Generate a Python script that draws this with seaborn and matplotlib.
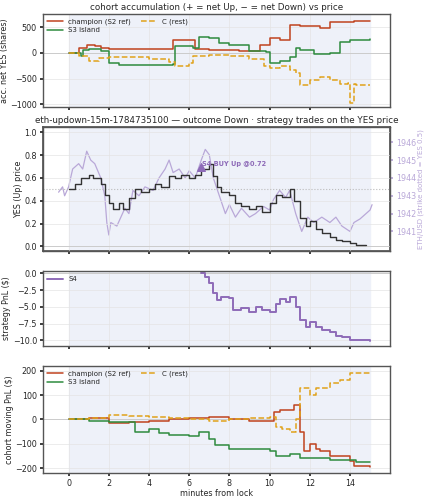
import numpy as np
import pandas as pd
import matplotlib
matplotlib.use("Agg")
import matplotlib.pyplot as plt
import seaborn as sns

# --- cohort accumulation (net YES shares) ---
acc_champ_t = [0, 0.5, 0.9, 1.3, 1.6, 2.0, 3, 4, 5, 5.2, 6.2, 6.3, 7, 8, 8.5, 9, 9.5, 10, 10.5, 11, 11.5, 12.5, 13.0, 14, 14.2, 15]
acc_champ_v = [0, 100, 150, 130, 100, 80, 70, 70, 80, 250, 250, 80, 60, 60, 40, 30, 150, 300, 250, 550, 520, 480, 600, 600, 630, 630]
acc_s3_t = [0, 0.5, 0.6, 0.7, 1.0, 1.6, 2.0, 2.5, 4.3, 5.2, 5.3, 6.2, 6.5, 7, 7.5, 8, 9, 9.8, 10, 10.5, 11, 11.3, 11.5, 12.2, 13, 13.5, 14, 15]
acc_s3_v = [0, 0, -50, 50, 80, 30, -200, -230, -230, -210, 130, 100, 320, 300, 200, 150, 30, 20, -200, -150, -80, 100, 50, -20, -10, 220, 250, 280]
acc_c_t = [0, 0.5, 1.0, 1.5, 2, 3, 4, 5, 5.3, 6.0, 6.2, 7, 8, 8.5, 9, 9.7, 10, 10.5, 11, 11.3, 11.5, 12, 12.5, 13, 13.5, 13.9, 14.0, 14.2, 14.3, 15]
acc_c_v = [0, -50, -150, -100, -80, -70, -120, -170, -250, -200, -60, -40, -50, -60, -120, -250, -300, -250, -330, -400, -630, -530, -470, -530, -600, -580, -980, -600, -620, -620]

# --- YES price and ETH ---
yes_t = [0, 0.3, 0.6, 1.0, 1.2, 1.5, 1.6, 1.8, 2.0, 2.2, 2.5, 2.7, 3.0, 3.3, 3.6, 4.0, 4.3, 4.6, 5.0, 5.3, 5.6, 6.0, 6.3, 6.6, 7.0, 7.2, 7.4, 7.6, 8.0, 8.3, 8.6, 9.0, 9.3, 9.6, 10.0, 10.3, 10.6, 11.0, 11.2, 11.5, 11.8, 12.0, 12.3, 12.6, 13.0, 13.3, 13.6, 14.0, 14.3, 14.8]
yes_v = [0.5, 0.55, 0.6, 0.63, 0.6, 0.6, 0.55, 0.45, 0.38, 0.33, 0.38, 0.33, 0.42, 0.5, 0.48, 0.5, 0.55, 0.52, 0.62, 0.6, 0.63, 0.6, 0.63, 0.68, 0.72, 0.62, 0.52, 0.48, 0.45, 0.38, 0.35, 0.33, 0.35, 0.3, 0.38, 0.45, 0.43, 0.5, 0.4, 0.25, 0.18, 0.22, 0.15, 0.12, 0.08, 0.06, 0.05, 0.03, 0.01, 0.01]
eth_t = [-0.5, -0.3, -0.2, 0, 0.2, 0.5, 0.7, 0.9, 1.1, 1.3, 1.6, 1.8, 1.9, 2.0, 2.1, 2.4, 2.8, 3.0, 3.2, 3.5, 3.8, 4.2, 4.5, 4.8, 5.0, 5.2, 5.5, 5.8, 6.0, 6.3, 6.6, 6.8, 7.0, 7.2, 7.5, 7.8, 8.0, 8.3, 8.6, 9.0, 9.3, 9.7, 10.0, 10.2, 10.5, 10.8, 11.0, 11.3, 11.6, 11.9, 12.2, 12.6, 13.0, 13.3, 13.6, 14.0, 14.2, 14.5, 14.8, 15.0, 15.1]
eth_v = [1943.2, 1943.5, 1943.0, 1943.5, 1944.5, 1944.8, 1944.5, 1945.5, 1945.0, 1944.8, 1944.0, 1943.0, 1941.5, 1940.8, 1941.5, 1941.3, 1942.3, 1942.0, 1943.3, 1943.0, 1943.5, 1943.3, 1944.0, 1944.5, 1945.0, 1944.3, 1944.5, 1944.0, 1944.4, 1944.0, 1945.0, 1945.6, 1945.3, 1944.0, 1943.0, 1942.0, 1942.5, 1941.8, 1942.3, 1941.8, 1942.0, 1942.4, 1942.2, 1942.8, 1943.3, 1942.9, 1943.3, 1942.0, 1941.0, 1941.8, 1941.5, 1941.8, 1941.5, 1941.8, 1941.3, 1941.0, 1941.5, 1941.7, 1942.0, 1942.2, 1942.5]
trade_t, trade_p = 6.6, 0.70

# --- strategy PnL ---
s4_t = [6.6, 6.8, 7.0, 7.2, 7.4, 7.6, 8, 8.2, 8.6, 9, 9.3, 9.6, 10, 10.3, 10.5, 10.8, 11, 11.3, 11.5, 11.8, 12.0, 12.3, 12.6, 13, 13.3, 13.6, 14, 15]
s4_v = [0, -0.5, -1.5, -3.0, -4.0, -3.5, -3.6, -5.5, -5.2, -5.8, -5.0, -5.5, -5.8, -4.5, -3.8, -4.2, -3.5, -5.0, -7.0, -8.0, -7.2, -8.0, -8.5, -8.8, -9.3, -9.5, -10.0, -10.1]

# --- cohort moving PnL ---
pnl_champ_t = [0, 1, 2, 2.5, 3, 4, 5, 6, 7, 8, 9, 10, 10.2, 10.5, 11, 11.2, 11.5, 11.7, 12, 12.3, 12.5, 13, 14, 14.2, 15]
pnl_champ_v = [0, 5, -15, -15, -10, -5, 0, 5, 10, 0, -5, -5, 30, 40, 40, 60, -50, -130, -100, -120, -130, -150, -170, -190, -195]
pnl_s3_t = [0, 1, 2, 3, 3.3, 4, 4.5, 5, 6, 6.5, 7, 7.3, 8, 9, 10, 10.3, 11, 11.5, 12, 13, 14, 14.3, 15]
pnl_s3_v = [0, -5, -10, -10, -50, -40, -55, -65, -70, -50, -80, -105, -120, -120, -130, -150, -140, -160, -160, -165, -165, -175, -175]
pnl_c_t = [0, 1, 2, 3, 4, 5, 6, 7, 8, 9, 10, 10.3, 10.6, 11, 11.3, 11.5, 12, 12.3, 13, 13.5, 14, 15]
pnl_c_v = [0, 5, 20, 15, 10, 5, 0, -5, 0, 5, 10, -30, -40, -50, 0, 130, 100, 130, 150, 160, 190, 195]

RED, GREEN, ORANGE = '#c0431f', '#2e8b3e', '#e0a21a'
PURPLE, LPURPLE = '#8e6bb8', '#b9a8d8'
SHADE = '#eef1f9'

sns.set_theme(style="ticks")
plt.rcParams['font.family'] = ['DejaVu Sans']

fig, axes = plt.subplots(4, 1, figsize=(4.25, 5), dpi=100, sharex=True,
                         gridspec_kw={'height_ratios': [94, 125, 75, 108]})
fig.subplots_adjust(left=0.1, right=0.918, top=0.972, bottom=0.054, hspace=0.2)


def frame(ax, shade=True):
    if shade:
        ax.axvspan(0, 15, color=SHADE, zorder=0)
    ax.axhline(0, color='#cccccc', lw=0.7, zorder=1)
    ax.grid(True, color='#e4e4e4', lw=0.5)
    for s in ax.spines.values():
        s.set_color('#555555')
        s.set_linewidth(1.0)
    ax.tick_params(labelsize=5.8, length=2.5, pad=1.5)


def step(ax, t, v, color, label=None, ls='-', lw=1.1):
    d = pd.DataFrame({'t': t, 'v': v})
    sns.lineplot(data=d, x='t', y='v', ax=ax, color=color, lw=lw, ls=ls,
                 label=label, drawstyle='steps-post', legend=False)


# panel 1
ax = axes[0]
frame(ax)
step(ax, acc_champ_t, acc_champ_v, RED, 'champion (S2 ref)')
step(ax, acc_s3_t, acc_s3_v, GREEN, 'S3 island')
step(ax, acc_c_t, acc_c_v, ORANGE, 'C (rest)', ls='--')
ax.set_ylim(-1060, 760)
ax.set_yticks([-1000, -500, 0, 500])
ax.set_ylabel('acc. net YES (shares)', fontsize=5.8, labelpad=1)
ax.set_title('cohort accumulation (+ = net Up, − = net Down) vs price', fontsize=6.3, pad=3)
ax.legend(ncol=2, fontsize=5, frameon=False, loc='upper left', handlelength=2.2,
          borderaxespad=0.3, labelspacing=0.3, columnspacing=1.5)

# panel 2
ax = axes[1]
ax2 = ax.twinx()
ax2.axvspan(0, 15, color=SHADE, zorder=0)
ax2.plot(eth_t, eth_v, color=LPURPLE, lw=0.9, zorder=2)
ax2.set_ylim(1939.88, 1946.84)
ax2.set_yticks([1941, 1942, 1943, 1944, 1945, 1946])
ax2.tick_params(labelsize=5.8, colors=LPURPLE, length=2.5, pad=1.5)
ax2.set_ylabel('ETH/USD (strike dotted = YES 0.5)', fontsize=5, color=LPURPLE, labelpad=1)
ax2.grid(False)
ax.set_zorder(ax2.get_zorder() + 1)
ax.patch.set_visible(False)
frame(ax, shade=False)
for s in ax2.spines.values():
    s.set_color('#555555')
ax.axhline(0.5, color='#bbbbbb', lw=0.8, ls=':')
step(ax, yes_t, yes_v, '#333333', lw=1.0)
ax.scatter([trade_t], [trade_p], marker='^', s=30, color=PURPLE, zorder=5)
ax.text(trade_t + 0.05, trade_p, 'S4 BUY Up @0.72', color=PURPLE,
        fontsize=4.8, fontweight='bold', va='bottom')
ax.set_ylim(-0.044, 1.044)
ax.set_yticks([0, 0.2, 0.4, 0.6, 0.8, 1.0])
ax.set_ylabel('YES (Up) price', fontsize=5.8, labelpad=1)
ax.set_title('eth-updown-15m-1784735100 — outcome Down · strategy trades on the YES price',
             fontsize=6.3, pad=3)

# panel 3
ax = axes[2]
frame(ax)
step(ax, s4_t, s4_v, PURPLE, 'S4', lw=1.4)
ax.set_ylim(-10.8, 0.3)
ax.set_yticks([-10, -7.5, -5, -2.5, 0])
ax.set_ylabel('strategy PnL ($)', fontsize=5.8, labelpad=1)
ax.legend(fontsize=5, frameon=False, loc='upper left', handlelength=2.2, borderaxespad=0.3)

# panel 4
ax = axes[3]
frame(ax)
step(ax, pnl_champ_t, pnl_champ_v, RED, 'champion (S2 ref)')
step(ax, pnl_s3_t, pnl_s3_v, GREEN, 'S3 island')
step(ax, pnl_c_t, pnl_c_v, ORANGE, 'C (rest)', ls='--')
ax.set_ylim(-220, 220)
ax.set_yticks([-200, -100, 0, 100, 200])
ax.set_ylabel('cohort moving PnL ($)', fontsize=5.8, labelpad=1)
ax.legend(ncol=2, fontsize=5, frameon=False, loc='upper left', handlelength=2.2,
          borderaxespad=0.3, labelspacing=0.3, columnspacing=1.5)

ax.set_xlim(-1.3, 16.0)
ax.set_xticks([0, 2, 4, 6, 8, 10, 12, 14])
ax.set_xlabel('minutes from lock', fontsize=5.8, labelpad=1)

fig.savefig('out.png', dpi=100)
